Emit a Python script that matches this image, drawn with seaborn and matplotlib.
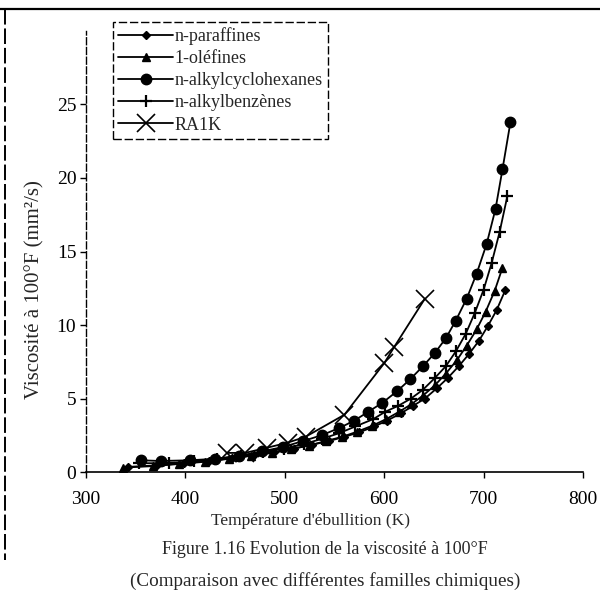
import matplotlib
matplotlib.use("Agg")
import matplotlib.pyplot as plt
from matplotlib.lines import Line2D
import seaborn as sns
import pandas as pd

# Boiling temperature (K) and kinematic viscosity at 100 °F (mm²/s) per family
paraffin_T = [342, 371, 399, 424, 447, 469, 489, 509, 527, 544, 560, 575, 590,
              603, 617, 629, 641, 653, 664, 675, 685, 695, 704, 713, 722]
paraffin_v = [0.35, 0.45, 0.6, 0.75, 0.95, 1.15, 1.35, 1.6, 1.85, 2.1, 2.4, 2.7, 3.1,
              3.5, 4.0, 4.5, 5.0, 5.7, 6.4, 7.2, 8.0, 8.9, 9.9, 11.0, 12.4]

olefin_T = [337, 367, 394, 420, 444, 466, 487, 506, 524, 541, 558, 573, 588,
            602, 615, 627, 639, 651, 662, 673, 683, 693, 702, 711, 719]
olefin_v = [0.3, 0.4, 0.55, 0.7, 0.9, 1.1, 1.3, 1.55, 1.8, 2.1, 2.4, 2.75, 3.15,
            3.6, 4.1, 4.6, 5.2, 5.9, 6.7, 7.6, 8.6, 9.7, 10.9, 12.3, 13.9]

cyclohexane_T = [355, 375, 405, 430, 454, 477, 498, 518, 537, 555, 570, 584, 598,
                 613, 626, 639, 651, 662, 672, 683, 693, 703, 712, 719, 727]
cyclohexane_v = [0.8, 0.75, 0.8, 0.9, 1.1, 1.4, 1.7, 2.1, 2.5, 3.0, 3.5, 4.1, 4.7,
                 5.5, 6.3, 7.2, 8.1, 9.1, 10.3, 11.8, 13.5, 15.5, 17.9, 20.6, 23.8]

benzene_T = [353, 384, 409, 432, 456, 478, 499, 519, 537, 555, 571, 589, 601,
             614, 627, 639, 651, 662, 672, 682, 691, 700, 708, 716, 724]
benzene_v = [0.6, 0.6, 0.75, 0.9, 1.1, 1.35, 1.6, 1.9, 2.25, 2.65, 3.1, 3.6, 4.1,
             4.5, 5.0, 5.6, 6.4, 7.2, 8.2, 9.4, 10.8, 12.4, 14.2, 16.3, 18.8]

ra1k_T = [442, 460, 482, 503, 521, 560, 600, 610, 641]
ra1k_v = [1.3, 1.3, 1.65, 2.0, 2.4, 3.9, 7.4, 8.5, 11.8]

series = [
    ("n-paraffines", paraffin_T, paraffin_v, "D", 4.5, 1.0),
    ("1-oléfines", olefin_T, olefin_v, "^", 5.5, 1.0),
    ("n-alkylcyclohexanes", cyclohexane_T, cyclohexane_v, "o", 7.5, 1.0),
    ("n-alkylbenzènes", benzene_T, benzene_v, "+", 8, 1.6),
    ("RA1K", ra1k_T, ra1k_v, "x", 13, 1.2),
]

sns.set_theme(style="white")
plt.rcParams["font.family"] = ["Liberation Serif", "DejaVu Serif"]

fig = plt.figure(figsize=(6.0, 6.04), dpi=100)
ax = fig.add_axes([0.1433, 0.2185, 0.8284, 0.7302])

for name, T, v, mk, ms, mew in series:
    df = pd.DataFrame({"T": T, "v": v})
    sns.lineplot(data=df, x="T", y="v", ax=ax, color="black", lw=1.3,
                 marker=mk, markersize=ms, markeredgewidth=mew,
                 markeredgecolor="black", markerfacecolor="black",
                 sort=False, label=name)

ax.set_xlim(300, 800)
ax.set_ylim(0, 30)
ax.set_xticks([300, 400, 500, 600, 700, 800])
ax.set_yticks([0, 5, 10, 15, 20, 25])
ax.tick_params(axis="both", which="major", direction="out", length=4,
               width=1, color="black", labelsize=14, labelcolor="black",
               bottom=True, left=True, pad=3)
ax.tick_params(axis="x", pad=10)
ax.set_xlabel("")
ax.set_ylabel("")

for s in ("top", "right"):
    ax.spines[s].set_visible(False)
ax.spines["bottom"].set_color("black")
ax.spines["bottom"].set_linewidth(1.2)
ax.spines["left"].set_color("black")
ax.spines["left"].set_linewidth(1.0)
ax.spines["left"].set_linestyle((0, (5, 2)))

fig.text(310 / 600, 1 - 521 / 604, "Température d'ébullition (K)",
         ha="center", va="center", fontsize=12.5)
fig.text(35 / 600, 1 - 290 / 604, "Viscosité à 100°F (mm²/s)",
         ha="center", va="center", rotation=90, fontsize=15)
fig.text(325 / 600, 1 - 549 / 604, "Figure 1.16 Evolution de la viscosité à 100°F",
         ha="center", va="center", fontsize=13)
fig.text(325 / 600, 1 - 581 / 604, "(Comparaison avec différentes familles chimiques)",
         ha="center", va="center", fontsize=13.8)

leg = ax.legend(loc="upper left", bbox_to_anchor=(113 / 600, 1 - 22 / 604),
                bbox_transform=fig.transFigure, frameon=True, fancybox=False,
                fontsize=13, handlelength=3.0, handletextpad=0.1,
                labelspacing=0.28, borderpad=0.3, borderaxespad=0)
leg.get_frame().set_edgecolor("black")
leg.get_frame().set_linewidth(1.0)
leg.get_frame().set_linestyle((0, (6, 2)))
leg.get_frame().set_facecolor("white")
leg.get_frame().set_alpha(1)

# outer frame of the figure page
fig.add_artist(Line2D([0, 1], [1 - 9 / 604, 1 - 9 / 604], color="black", lw=1.6,
                      transform=fig.transFigure))
fig.add_artist(Line2D([5 / 600, 5 / 600], [1 - 9 / 604, 1 - 560 / 604], color="black",
                      lw=1.4, ls=(0, (8, 2)), transform=fig.transFigure))

fig.savefig("out.png", dpi=100, facecolor="white")
